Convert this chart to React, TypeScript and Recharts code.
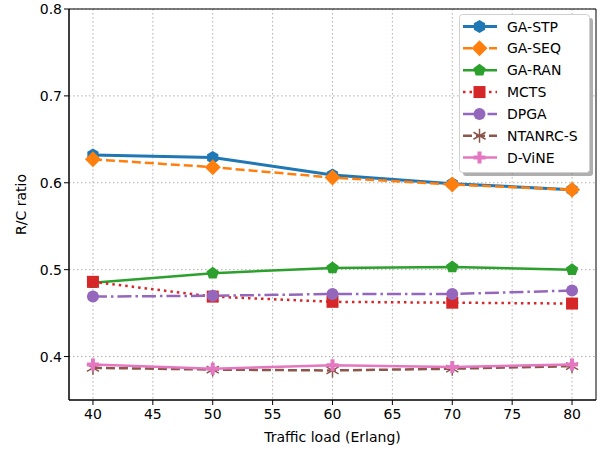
import {
  CartesianGrid,
  Legend,
  Line,
  LineChart,
  ReferenceArea,
  XAxis,
  YAxis,
} from "recharts";

const loads = [40, 50, 60, 70, 80];
const gaStp = [0.632, 0.629, 0.609, 0.599, 0.592];
const gaSeq = [0.627, 0.618, 0.606, 0.598, 0.592];
const gaRan = [0.485, 0.496, 0.502, 0.503, 0.5];
const mcts = [0.486, 0.469, 0.463, 0.462, 0.461];
const dpga = [0.469, 0.470, 0.472, 0.472, 0.476];
const ntanrc = [0.387, 0.385, 0.384, 0.386, 0.389];
const dvine = [0.391, 0.386, 0.390, 0.388, 0.391];

const xTicks = [40, 45, 50, 55, 60, 65, 70, 75, 80];
const yTicks = [0.4, 0.5, 0.6, 0.7, 0.8];

const data = loads.map((x, i) => ({
  x,
  gaStp: gaStp[i],
  gaSeq: gaSeq[i],
  gaRan: gaRan[i],
  mcts: mcts[i],
  dpga: dpga[i],
  ntanrc: ntanrc[i],
  dvine: dvine[i],
}));

const FONT = "'DejaVu Sans', sans-serif";

type Shape = "hex" | "diamond" | "pent" | "square" | "circle" | "star" | "plus";

const series: {
  key: string;
  name: string;
  color: string;
  dash?: string;
  width: number;
  shape: Shape;
}[] = [
  { key: "gaStp", name: "GA-STP", color: "#1f77b4", width: 3, shape: "hex" },
  { key: "gaSeq", name: "GA-SEQ", color: "#ff7f0e", width: 2.5, dash: "9 4", shape: "diamond" },
  { key: "gaRan", name: "GA-RAN", color: "#2ca02c", width: 2.5, shape: "pent" },
  { key: "mcts", name: "MCTS", color: "#d62728", width: 2.5, dash: "2.5 4", shape: "square" },
  { key: "dpga", name: "DPGA", color: "#9467bd", width: 2.5, dash: "14 4 2.5 4", shape: "circle" },
  { key: "ntanrc", name: "NTANRC-S", color: "#8c564b", width: 2.5, dash: "9 4", shape: "star" },
  { key: "dvine", name: "D-ViNE", color: "#e377c2", width: 2.5, shape: "plus" },
];

function poly(cx: number, cy: number, r: number, n: number, start: number) {
  const pts: string[] = [];
  for (let k = 0; k < n; k++) {
    const a = ((start + (360 / n) * k) * Math.PI) / 180;
    pts.push(`${cx + r * Math.cos(a)},${cy - r * Math.sin(a)}`);
  }
  return pts.join(" ");
}

function marker(shape: Shape, color: string, cx: number, cy: number, key?: any) {
  switch (shape) {
    case "hex":
      return <polygon key={key} points={poly(cx, cy, 6.5, 6, 90)} fill={color} />;
    case "diamond":
      return <polygon key={key} points={poly(cx, cy, 8, 4, 90)} fill={color} />;
    case "pent":
      return <polygon key={key} points={poly(cx, cy, 6.5, 5, 90)} fill={color} />;
    case "square":
      return <rect key={key} x={cx - 6} y={cy - 6} width={12} height={12} fill={color} />;
    case "circle":
      return <circle key={key} cx={cx} cy={cy} r={6} fill={color} />;
    case "star":
      return (
        <g key={key} stroke={color} strokeWidth={1.5}>
          {[90, 30, 150].map((d) => {
            const a = (d * Math.PI) / 180;
            const dx = 7 * Math.cos(a);
            const dy = 7 * Math.sin(a);
            return <line key={d} x1={cx - dx} y1={cy + dy} x2={cx + dx} y2={cy - dy} />;
          })}
        </g>
      );
    case "plus":
      return (
        <path
          key={key}
          d={`M${cx - 2},${cy - 6}h4v4h4v4h-4v4h-4v-4h-4v-4h4z`}
          fill={color}
        />
      );
  }
}

function makeDot(shape: Shape, color: string) {
  return (props: any) => {
    const { cx, cy, index } = props;
    if (cx == null || cy == null) return <g key={index} />;
    return marker(shape, color, cx, cy, index);
  };
}

function LegendBox() {
  const rowH = 21.85;
  const w = 130;
  const h = 158;
  return (
    <svg width={w + 5} height={h + 5} style={{ display: "block" }}>
      <rect x={4} y={4} width={w} height={h} rx={3} fill="#6e6e6e" opacity={0.55} />
      <rect x={0.5} y={0.5} width={w} height={h} rx={3} fill="#fff" stroke="#d0d0d0" />
      {series.map((s, i) => {
        const y = 12.5 + i * rowH;
        return (
          <g key={s.key}>
            <line
              x1={4}
              x2={38}
              y1={y}
              y2={y}
              stroke={s.color}
              strokeWidth={s.width}
              strokeDasharray={s.dash}
            />
            {marker(s.shape, s.color, 20.5, y)}
            <text x={48} y={y + 5} fontSize={14} fontFamily={FONT} fill="#000">
              {s.name}
            </text>
          </g>
        );
      })}
    </svg>
  );
}

export default function App() {
  return (
    <div style={{ width: 600, height: 453, background: "#fff" }}>
      <style>{`body{margin:0}`}</style>
      <LineChart
        width={600}
        height={453}
        data={data}
        margin={{ top: 9, right: 4, bottom: 13, left: 1 }}
      >
        <CartesianGrid
          stroke="#b0b0b0"
          strokeDasharray="1.5 2.5"
          horizontalValues={yTicks}
          verticalValues={xTicks}
        />
        <XAxis
          dataKey="x"
          type="number"
          domain={[38, 82]}
          ticks={xTicks}
          height={40}
          tick={{ fontSize: 14, fill: "#000", fontFamily: FONT }}
          tickLine={{ stroke: "#000" }}
          tickSize={5}
          tickMargin={4}
          axisLine={{ stroke: "#000" }}
          label={{
            value: "Traffic load (Erlang)",
            position: "insideBottom",
            offset: -2,
            fontSize: 14,
            fill: "#000",
            fontFamily: FONT,
          }}
          allowDataOverflow
        />
        <YAxis
          type="number"
          domain={[0.35, 0.8]}
          ticks={yTicks}
          width={68}
          tickFormatter={(v: number) => v.toFixed(1)}
          tick={{ fontSize: 14, fill: "#000", fontFamily: FONT }}
          tickLine={{ stroke: "#000" }}
          tickSize={5}
          axisLine={{ stroke: "#000" }}
          label={{
            value: "R/C ratio",
            angle: -90,
            position: "insideLeft",
            offset: 20,
            style: { textAnchor: "middle" },
            fontSize: 14,
            fill: "#000",
            fontFamily: FONT,
          }}
          allowDataOverflow
        />
        <ReferenceArea
          x1={38}
          x2={82}
          y1={0.35}
          y2={0.8}
          fill="none"
          stroke="#000"
          strokeWidth={1}
        />
        {series.map((s) => (
          <Line
            key={s.key}
            dataKey={s.key}
            name={s.name}
            type="linear"
            stroke={s.color}
            strokeWidth={s.width}
            strokeDasharray={s.dash}
            dot={makeDot(s.shape, s.color)}
            activeDot={false}
            isAnimationActive={false}
          />
        ))}
        <Legend
          layout="vertical"
          align="center"
          verticalAlign="middle"
          content={() => <LegendBox />}
          wrapperStyle={{ position: "absolute", top: 14, left: 459, width: "auto", height: "auto" }}
        />
      </LineChart>
    </div>
  );
}
